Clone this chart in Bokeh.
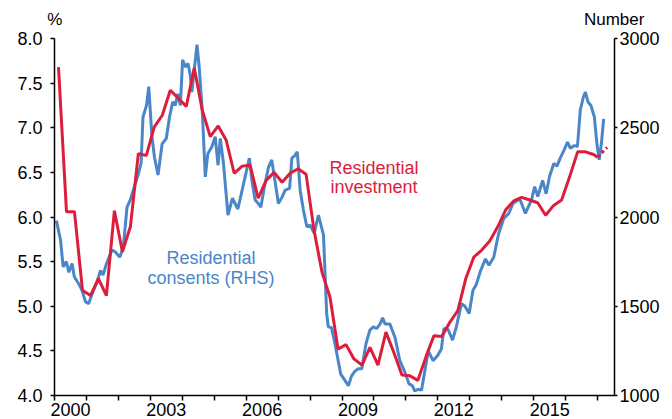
from bokeh.plotting import figure
from bokeh.models import Range1d, LinearAxis, FixedTicker, NumeralTickFormatter, Label
from bokeh.embed import file_html
from bokeh.resources import INLINE

# ---------------- data ----------------
# Residential investment, % (left axis), quarterly
invest_year = [2000.125, 2000.375, 2000.625, 2000.875,
               2001.125, 2001.375, 2001.625, 2001.875,
               2002.125, 2002.375, 2002.625, 2002.875,
               2003.125, 2003.375, 2003.625, 2003.875,
               2004.125, 2004.375, 2004.625, 2004.875,
               2005.125, 2005.375, 2005.625, 2005.875,
               2006.125, 2006.375, 2006.625, 2006.875,
               2007.125, 2007.375, 2007.625, 2007.875,
               2008.125, 2008.375, 2008.625, 2008.875,
               2009.125, 2009.375, 2009.625, 2009.875,
               2010.125, 2010.375, 2010.625, 2010.875,
               2011.125, 2011.375, 2011.625, 2011.875,
               2012.125, 2012.375, 2012.625, 2012.875,
               2013.125, 2013.375, 2013.625, 2013.875,
               2014.125, 2014.375, 2014.625, 2014.875,
               2015.125, 2015.375, 2015.625, 2015.875,
               2016.125, 2016.375, 2016.625, 2016.875,
               2017.0]
invest_pct = [7.68, 6.06, 6.06, 5.18,
              5.12, 5.31, 5.12, 6.07,
              5.61, 5.89, 6.71, 6.69,
              7.01, 7.14, 7.42, 7.33,
              7.24, 7.67, 7.20, 6.90,
              7.02, 6.86, 6.49, 6.57,
              6.58, 6.21, 6.41, 6.50,
              6.39, 6.49, 6.54, 6.48,
              5.85, 5.38, 5.10, 4.52,
              4.57, 4.41, 4.34, 4.54,
              4.34, 4.71, 4.48, 4.23,
              4.22, 4.17, 4.43, 4.67,
              4.66, 4.82, 4.95, 5.31,
              5.55, 5.63, 5.73, 5.89,
              6.08, 6.18, 6.22, 6.19,
              6.16, 6.02, 6.13, 6.19,
              6.45, 6.73, 6.73, 6.70,
              6.67]
# projected (dotted) segment
proj_year = [2017.0, 2017.3]
proj_pct = [6.67, 6.78]

# Residential consents, number (right axis), monthly
consents_year = [
    2000.06, 2000.19, 2000.27, 2000.37, 2000.45, 2000.55, 2000.62, 2000.76, 2000.86, 2000.97,
    2001.07, 2001.18, 2001.33, 2001.44, 2001.52, 2001.63, 2001.80, 2001.90,
    2002.04, 2002.15, 2002.27, 2002.37, 2002.50, 2002.60, 2002.71, 2002.77, 2002.88, 2002.95,
    2003.05, 2003.13, 2003.24, 2003.37, 2003.50, 2003.60, 2003.70, 2003.78, 2003.86, 2003.94,
    2004.01, 2004.10, 2004.18, 2004.25, 2004.30, 2004.46, 2004.53, 2004.63, 2004.72, 2004.80, 2004.93,
    2005.03, 2005.12, 2005.19, 2005.29, 2005.43, 2005.57, 2005.74,
    2006.10, 2006.18, 2006.28, 2006.38, 2006.46, 2006.56, 2006.70, 2006.80, 2006.90,
    2007.01, 2007.12, 2007.22, 2007.36, 2007.43, 2007.53, 2007.60, 2007.69, 2007.79, 2007.90,
    2008.00, 2008.13, 2008.26, 2008.37, 2008.42, 2008.52, 2008.57, 2008.67, 2008.78, 2008.88, 2008.96,
    2009.09, 2009.20, 2009.30, 2009.40, 2009.51, 2009.62, 2009.75, 2009.87, 2009.98,
    2010.08, 2010.19, 2010.27, 2010.35, 2010.50, 2010.66, 2010.81, 2010.97,
    2011.10, 2011.20, 2011.28, 2011.38, 2011.49, 2011.70, 2011.85,
    2012.00, 2012.11, 2012.19, 2012.32, 2012.46, 2012.58, 2012.74, 2012.85, 2012.98,
    2013.10, 2013.20, 2013.34, 2013.49, 2013.60, 2013.75, 2013.90,
    2014.06, 2014.22, 2014.35, 2014.51, 2014.58, 2014.74, 2014.93,
    2015.03, 2015.13, 2015.28, 2015.39, 2015.50, 2015.63, 2015.73, 2015.83, 2015.94,
    2016.06, 2016.15, 2016.27, 2016.37, 2016.46, 2016.56, 2016.62, 2016.70, 2016.79, 2016.90, 2016.98,
    2017.05, 2017.12, 2017.19]
consents_num = [
    1980, 1870, 1720, 1750, 1690, 1740, 1665, 1625, 1590, 1525,
    1515, 1570, 1635, 1700, 1675, 1740, 1815, 1805,
    1775, 1825, 2055, 2095, 2170, 2225, 2300, 2560, 2625, 2730,
    2450, 2335, 2235, 2410, 2440, 2560, 2645, 2625, 2690, 2625,
    2880, 2840, 2860, 2795, 2700, 2965, 2840, 2580, 2225, 2355, 2395,
    2450, 2290, 2440, 2300, 2010, 2105, 2045,
    2330, 2205, 2095, 2075, 2055, 2160, 2280, 2320, 2205,
    2075, 2110, 2150, 2160, 2330, 2345, 2365, 2150, 2040, 1945,
    1955, 1910, 2010, 1935, 1900, 1460, 1385, 1380, 1290, 1195, 1120,
    1085, 1055, 1110, 1135, 1150, 1150, 1290, 1365, 1385,
    1375, 1400, 1435, 1400, 1400, 1325, 1195, 1130,
    1065, 1055, 1025, 1035, 1030, 1250, 1195,
    1225, 1260, 1375, 1370, 1310, 1385, 1515, 1500, 1460,
    1590, 1620, 1700, 1765, 1730, 1775, 1905,
    1990, 2020, 2075, 2095, 2095, 2020, 2095,
    2170, 2115, 2205, 2130, 2230, 2300, 2285, 2330, 2370,
    2420, 2385, 2400, 2395, 2600, 2675, 2700, 2645, 2625, 2560, 2410,
    2320, 2410, 2550]

label_years = [2000, 2003, 2006, 2009, 2012, 2015]
year_bounds = list(range(2000, 2018))
left_ticks = [4.0, 4.5, 5.0, 5.5, 6.0, 6.5, 7.0, 7.5, 8.0]
right_ticks = [1000, 1500, 2000, 2500, 3000]
unit_labels = ["%", "Number"]

X_START, X_END = 2000, 2017.53
RED = "#dc1e3c"
BLUE = "#4a86c8"
FONT = "Liberation Sans"

# ---------------- figure ----------------
p = figure(width=672, height=419,
           x_range=Range1d(X_START, X_END), y_range=Range1d(4, 8),
           output_backend="svg", toolbar_location=None,
           min_border_left=54, min_border_right=58,
           min_border_top=38, min_border_bottom=24)
p.extra_y_ranges = {"num": Range1d(1000, 3000)}
p.grid.visible = False
p.outline_line_color = None

# x axis: labels centred on the year, ticks at year boundaries
xa = p.xaxis[0]
xa.ticker = FixedTicker(ticks=[y + 0.5 for y in label_years], minor_ticks=year_bounds)
xa.major_label_overrides = {y + 0.5: str(y) for y in label_years}
xa.major_tick_line_color = None
xa.major_tick_out = 0
xa.major_tick_in = 0
xa.minor_tick_line_color = "black"
xa.minor_tick_line_width = 1.5
xa.minor_tick_in = 0
xa.minor_tick_out = 5
xa.major_label_standoff = 2

# left axis
ya = p.yaxis[0]
ya.ticker = FixedTicker(ticks=left_ticks)
ya.formatter = NumeralTickFormatter(format="0.0")
ya.major_tick_in = 0
ya.major_tick_out = 4
ya.minor_tick_line_color = None
ya.major_label_standoff = 8

# right axis
ra = LinearAxis(y_range_name="num", ticker=FixedTicker(ticks=right_ticks))
ra.major_tick_in = 0
ra.major_tick_out = 3
ra.minor_tick_line_color = None
ra.major_label_standoff = 2
p.add_layout(ra, "right")

for ax in (xa, ya, ra):
    ax.axis_line_width = 1.5
    ax.axis_line_color = "black"
    ax.major_label_text_font = FONT
    ax.major_label_text_font_size = "18px"
    ax.major_label_text_color = "black"
ya.major_tick_line_width = 1.5
ra.major_tick_line_width = 1.5

# unit labels above each y axis (axis above, no line / ticks)
unit_pos = [X_START + 0.01, X_END - 0.01]
ta = LinearAxis(ticker=FixedTicker(ticks=unit_pos, minor_ticks=[]))
ta.major_label_overrides = dict(zip(unit_pos, unit_labels))
ta.axis_line_color = None
ta.major_tick_line_color = None
ta.minor_tick_line_color = None
ta.major_tick_out = 0
ta.major_tick_in = 0
ta.major_label_standoff = 10
ta.major_label_text_font = FONT
ta.major_label_text_font_size = "17px"
ta.major_label_text_color = "black"
p.add_layout(ta, "above")

# lines
p.line(consents_year, consents_num, y_range_name="num", line_color=BLUE, line_width=3)
p.line(invest_year, invest_pct, line_color=RED, line_width=3)
p.line(proj_year, proj_pct, line_color=RED, line_width=3, line_dash="3 3")

# annotations
def lab(x, y, text, color):
    p.add_layout(Label(x=x, y=y, text=text, text_color=color, text_font=FONT,
                       text_font_size="18px", text_align="center",
                       text_baseline="alphabetic"))

lab(2010.0, 6.55, "Residential", RED)
lab(2010.0, 6.34, "investment", RED)
lab(2004.9, 5.54, "Residential", BLUE)
lab(2004.9, 5.32, "consents (RHS)", BLUE)

open("out.html", "w").write(file_html(p, INLINE))
